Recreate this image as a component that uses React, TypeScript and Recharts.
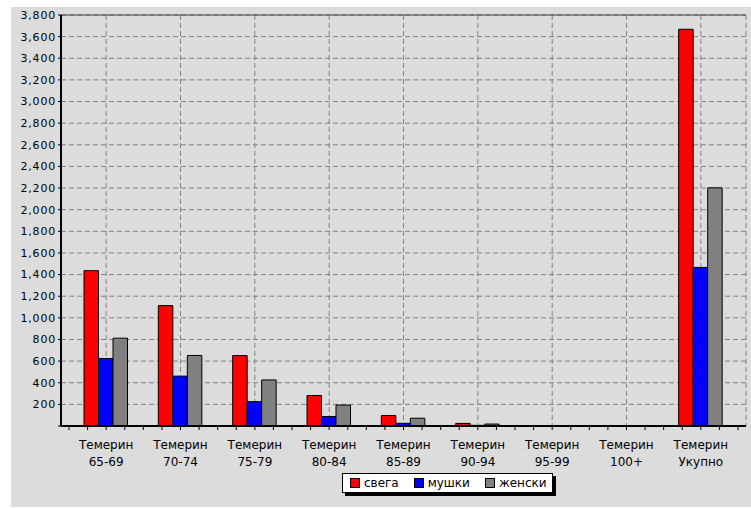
import { Bar, BarChart, CartesianGrid, ReferenceLine, XAxis, YAxis } from 'recharts'

const categories = [
  'Темерин 65-69',
  'Темерин 70-74',
  'Темерин 75-79',
  'Темерин 80-84',
  'Темерин 85-89',
  'Темерин 90-94',
  'Темерин 95-99',
  'Темерин 100+',
  'Темерин Укупно'
]
const total = [1436, 1113, 651, 282, 97, 24, 3, 0, 3668]
const male = [624, 461, 225, 88, 25, 6, 0, 0, 1466]
const female = [812, 652, 426, 194, 72, 18, 3, 0, 2202]
const yTicks = [0, 200, 400, 600, 800, 1000, 1200, 1400, 1600, 1800, 2000, 2200, 2400, 2600, 2800, 3000, 3200, 3400, 3600, 3800]
const seriesNames = ['свега', 'мушки', 'женски']
const seriesColors = ['#ff0000', '#0000ff', '#808080']

const CHART_W = 740
const CHART_H = 500
const MARGIN = { top: 8, right: 5, left: 0, bottom: 21 }
const Y_W = 50
const PAD = 8
const BAND = (CHART_W - MARGIN.left - Y_W - MARGIN.right - PAD * 2) / categories.length
const FONT = '"DejaVu Sans", sans-serif'

const data = categories.map((name, i) => ({
  name,
  total: total[i],
  male: male[i],
  female: female[i]
}))

function CategoryTick(props: any) {
  const { x, y, payload, index } = props
  const [town, group] = String(payload.value).split(' ')
  const offsets = [-BAND / 2, -BAND / 4, 0, BAND / 4]
  if (index === categories.length - 1) offsets.push(BAND / 2)
  return (
    <g>
      {offsets.map((o) => (
        <line key={o} x1={x + o} x2={x + o} y1={y} y2={y + 4} stroke="#000" strokeWidth={1} />
      ))}
      <text x={x} y={y + 23} textAnchor="middle" fontSize={12} fill="#000" fontFamily={FONT}>
        {town}
      </text>
      <text x={x} y={y + 40} textAnchor="middle" fontSize={12} fill="#000" fontFamily={FONT}>
        {group}
      </text>
    </g>
  )
}

export default function App() {
  return (
    <div style={{ position: 'absolute', left: 0, top: 0, width: 751, height: 508, background: '#fff' }}>
      <div
        style={{
          position: 'absolute',
          left: 11,
          top: 7,
          width: CHART_W,
          height: CHART_H,
          background: '#dcdcdc'
        }}
      >
        <BarChart width={CHART_W} height={CHART_H} data={data} margin={MARGIN} barGap={0}>
          <CartesianGrid stroke="#808080" strokeDasharray="5 3" />
          <XAxis
            dataKey="name"
            interval={0}
            padding={{ left: PAD, right: PAD }}
            height={60}
            tickSize={0}
            tickMargin={0}
            tickLine={false}
            axisLine={{ stroke: '#000', strokeWidth: 2 }}
            tick={<CategoryTick />}
          />
          <YAxis
            width={Y_W}
            domain={[0, 3800]}
            ticks={yTicks}
            interval={0}
            tickSize={3}
            tickLine={{ stroke: '#000' }}
            axisLine={{ stroke: '#000', strokeWidth: 2 }}
            tick={{ fill: '#000', fontSize: 11, fontFamily: FONT, letterSpacing: 0.8 }}
            tickFormatter={(v: number) => (v === 0 ? '' : v.toLocaleString('en-US'))}
          />
          <YAxis
            yAxisId="r"
            orientation="right"
            width={0}
            domain={[0, 1]}
            tick={false}
            tickLine={false}
            axisLine={{ stroke: '#404040' }}
          />
          <ReferenceLine y={3800} stroke="#404040" />
          <Bar dataKey="total" name={seriesNames[0]} fill={seriesColors[0]} stroke="#000" barSize={14.5} isAnimationActive={false} />
          <Bar dataKey="male" name={seriesNames[1]} fill={seriesColors[1]} stroke="#000" barSize={14.5} isAnimationActive={false} />
          <Bar dataKey="female" name={seriesNames[2]} fill={seriesColors[2]} stroke="#000" barSize={14.5} isAnimationActive={false} />
        </BarChart>
        <div
          style={{
            position: 'absolute',
            left: 331,
            top: 466,
            width: 202,
            height: 18,
            background: '#fff',
            border: '1px solid #000',
            boxShadow: '3px 3px 0 #000',
            display: 'flex',
            alignItems: 'center',
            paddingLeft: 7,
            boxSizing: 'content-box',
            fontFamily: FONT,
            fontSize: 12,
            color: '#000',
            whiteSpace: 'nowrap'
          }}
        >
          {seriesNames.map((n, i) => (
            <div key={n} style={{ display: 'flex', alignItems: 'center', marginRight: i < 2 ? 15 : 0 }}>
              <span
                style={{
                  display: 'inline-block',
                  width: 8,
                  height: 8,
                  background: seriesColors[i],
                  border: '1px solid #000',
                  marginRight: 4
                }}
              />
              <span>{n}</span>
            </div>
          ))}
        </div>
      </div>
    </div>
  )
}
